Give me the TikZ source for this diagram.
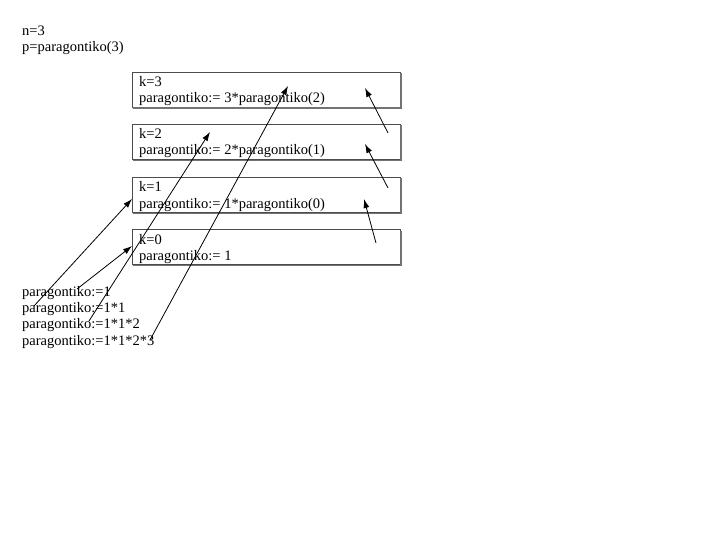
\documentclass[tikz,border=0pt]{standalone}
\usepackage{fontspec}
\setmainfont{Liberation Serif}
\usetikzlibrary{arrows.meta,calc}
\begin{document}
\begin{tikzpicture}[x=1pt,y=-1pt,
  box/.style={draw=black!70,line width=0.6pt,minimum width=268pt,minimum height=35pt,inner sep=0pt,fill=white},
  shade/.style={draw=black!55,line width=1.4pt},
  txt/.style={anchor=base west,inner sep=0pt,font=\fontsize{14.5}{16}\selectfont},
  arr/.style={-{Latex[length=9pt,width=6pt]},line width=0.8pt}]
\useasboundingbox (0,0) rectangle (720,540);

% header text
\node[txt] (n) at (22,36) {n=3};
\node[txt] (p) at (22,52) {p=paragontiko(3)};

% boxes
\foreach \nm/\yy in {b3/89.5,b2/141.75,b1/194.75,b0/247}{
  \node[box] (\nm) at (266,\yy) {};
  \draw[shade] ($(\nm.north east)+(0.8,1.5)$) -- ($(\nm.south east)+(0.8,0.8)$) -- ($(\nm.south west)+(1.5,0.8)$);
}

% box texts
\node[txt] (k3) at (139,86.5) {k=3};
\node[txt] (e3) at (139,102.5) {paragontiko:= 3*paragontiko(2)};
\node[txt] (k2) at (139,139) {k=2};
\node[txt] (e2) at (139,155) {paragontiko:= 2*paragontiko(1)};
\node[txt] (k1) at (139,192) {k=1};
\node[txt] (e1) at (139,208) {paragontiko:= 1*paragontiko(0)};
\node[txt] (k0) at (139,244) {k=0};
\node[txt] (e0) at (139,260) {paragontiko:= 1};

% result lines
\node[txt] (r1) at (22,296.5) {paragontiko:=1};
\node[txt] (r2) at (22,312) {paragontiko:=1*1};
\node[txt] (r3) at (22,328.5) {paragontiko:=1*1*2};
\node[txt] (r4) at (22,345.5) {paragontiko:=1*1*2*3};

% arrow end points
\coordinate (sA) at (34,306);  \coordinate (tA) at (132,199);
\coordinate (sB) at (77,289);  \coordinate (tB) at (132,246);
\coordinate (sC) at (89,321);  \coordinate (tC) at (210,132);
\coordinate (sD) at (150,340); \coordinate (tD) at (288,86);
\coordinate (sE) at (388,133); \coordinate (tE) at (365,88);
\coordinate (sF) at (388,188); \coordinate (tF) at (365,144);
\coordinate (sG) at (376,243); \coordinate (tG) at (364,199);

\draw[arr] (sA) -- (tA);
\draw[arr] (sB) -- (tB);
\draw[arr] (sC) -- (tC);
\draw[arr] (sD) -- (tD);
\draw[arr] (sE) -- (tE);
\draw[arr] (sF) -- (tF);
\draw[arr] (sG) -- (tG);
\end{tikzpicture}
\end{document}
